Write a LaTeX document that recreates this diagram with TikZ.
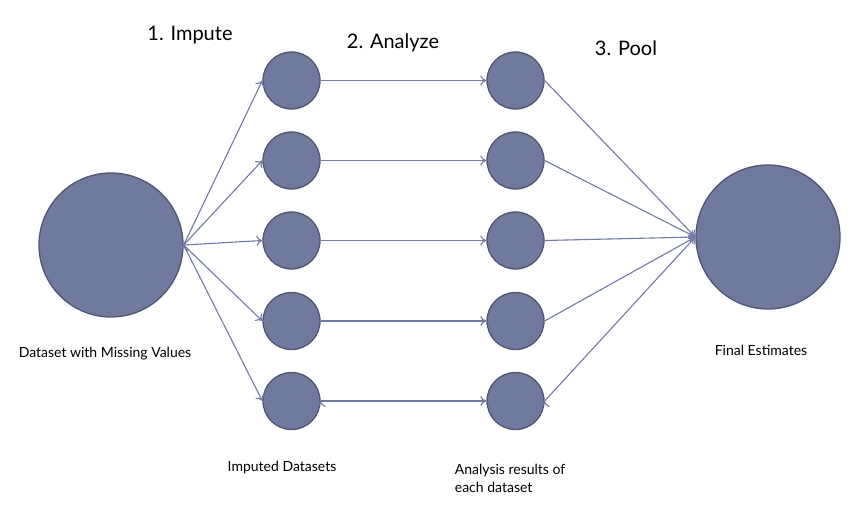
\documentclass[tikz,border=0pt]{standalone}
\usepackage{fontspec}
\setmainfont{Lato}
\usepackage{tikz}
\usetikzlibrary{arrows.meta}
\definecolor{ballfill}{RGB}{112,122,158}
\definecolor{balldraw}{RGB}{78,86,114}
\definecolor{wire}{RGB}{112,122,164}

\begin{document}
\begin{tikzpicture}[x=1pt, y=-1pt, line width=1.1pt,
    >={To[length=6pt, width=10pt]},
    ball/.style={circle, fill=ballfill, draw=balldraw, line width=1.3pt, inner sep=0pt},
    big/.style={ball, minimum size=144pt},
    small/.style={ball, minimum size=57pt},
    head/.style={font=\fontsize{20}{24}\selectfont},
    note/.style={font=\fontsize{14}{18}\selectfont, align=left}]
      \useasboundingbox (0,0) rectangle (856,505);

      \node[big](data)  at (111, 245) {};
      \node[big](final) at (768, 237) {};

      \node[small](i1) at (291.5,  80.5) {};
      \node[small](i2) at (291.5, 160.5) {};
      \node[small](i3) at (291.5, 240.5) {};
      \node[small](i4) at (291.5, 321) {};
      \node[small](i5) at (291.5, 401) {};

      \node[small](a1) at (515.5,  80.5) {};
      \node[small](a2) at (515.5, 160.5) {};
      \node[small](a3) at (515.5, 240.5) {};
      \node[small](a4) at (515.5, 321) {};
      \node[small](a5) at (515.5, 401) {};

      \draw[->, wire](data.east) edge (i1.west)
                     (data.east) edge (i2.west)
                     (data.east) edge (i3.west)
                     (data.east) edge (i4.west)
                     (data.east) edge (i5.west);
      \draw[->, wire](i1.east) edge (a1.west)
                     (i2.east) edge (a2.west)
                     (i3.east) edge (a3.west)
                     (i4.east) edge (a4.west)
                     (i5.east) edge (a5.west);
      \draw[->, wire](a1.east) edge (final.west)
                     (a2.east) edge (final.west)
                     (a3.east) edge (final.west)
                     (a4.east) edge (final.west)
                     (a5.east) edge (final.west);

      \node[head](impute)  at (190, 35) {1. Impute};
      \node[head](analyze) at (393, 43) {2. Analyze};
      \node[head](pool)    at (626, 48) {3. Pool};

      \node[note](datalabel)  at (105, 354) {Dataset with Missing Values};
      \node[note](finallabel) at (761, 350) {Final Estimates};
      \node[note](implabel)   at (282, 468) {Imputed Datasets};
      \node[note, anchor=west](reslabel) at (451, 478) {Analysis results of\\each dataset};
    \end{tikzpicture}
\end{document}
